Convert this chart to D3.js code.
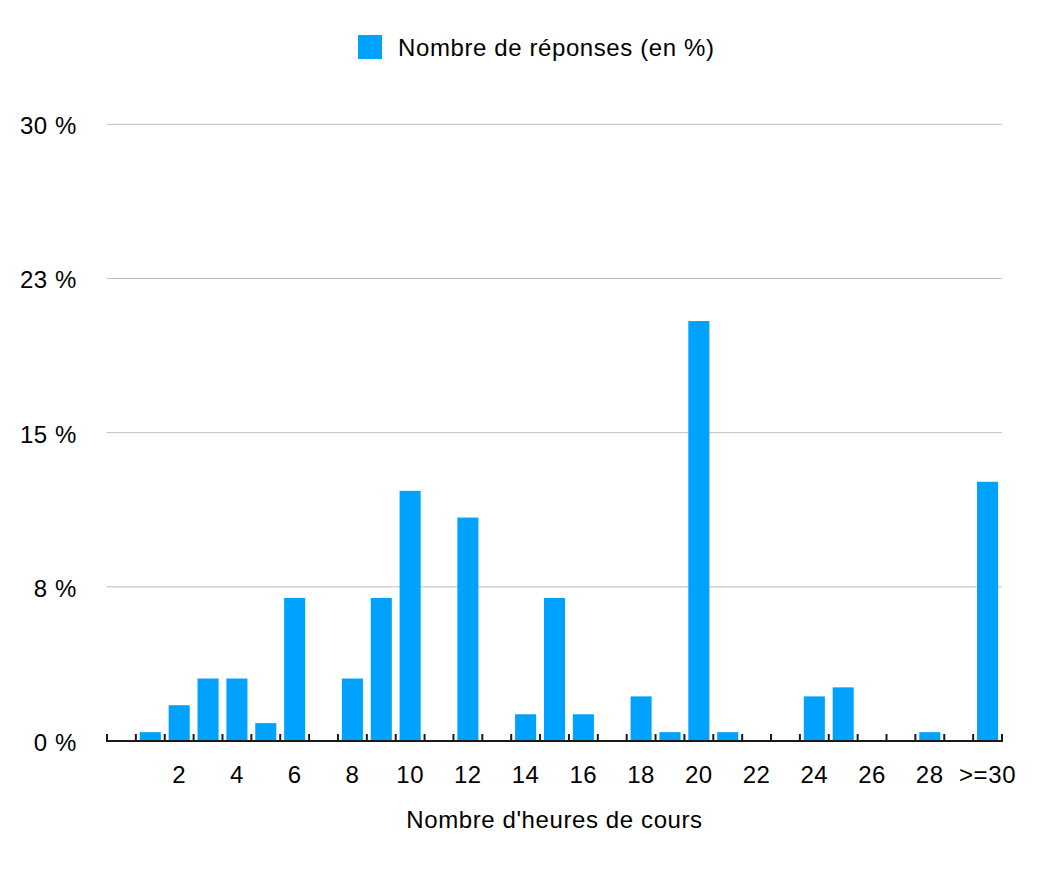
<!DOCTYPE html>
<html>
<head>
<meta charset="utf-8">
<script src="https://cdn.jsdelivr.net/npm/d3@7/dist/d3.min.js"></script>
<style>
  html, body { margin: 0; padding: 0; background: #fff; }
  text { font-family: "Liberation Sans", Arial, Helvetica, sans-serif; fill: #000; letter-spacing: 0.6px; }
</style>
</head>
<body>
<svg id="chart" width="1054" height="872"></svg>
<script>
// Categories: number of class hours (0 .. 29, then ">=30")
const categories = ["0","1","2","3","4","5","6","7","8","9","10","11","12","13","14","15",
  "16","17","18","19","20","21","22","23","24","25","26","27","28","29",">=30"];
// Share of responses (%)
const values = [0, 0.43, 1.74, 3.04, 3.04, 0.87, 6.96, 0, 3.04, 6.96, 12.17, 0, 10.87, 0,
  1.30, 6.96, 1.30, 0, 2.17, 0.43, 20.43, 0.43, 0, 0, 2.17, 2.61, 0, 0, 0.43, 0, 12.61];
const xTickLabels = ["2","4","6","8","10","12","14","16","18","20","22","24","26","28",">=30"];
const yTicks = [0, 7.5, 15, 22.5, 30];
const yTickLabels = ["0 %", "8 %", "15 %", "23 %", "30 %"];
const seriesName = "Nombre de réponses (en %)";
const xTitle = "Nombre d'heures de cours";

(function () {
const svg = d3.select("#chart");
const mLeft = 107, mRight = 1002, mTop = 124.3, mBottom = 741;
const color = "#00a2ff";
const fs = 24;

const x = d3.scaleBand().domain(categories).range([mLeft, mRight]).padding(0);
const y = d3.scaleLinear().domain([0, 30]).range([mBottom, mTop]);

// gridlines
svg.append("g").selectAll("line").data(yTicks.filter(d => d > 0)).join("line")
  .attr("x1", mLeft).attr("x2", mRight)
  .attr("y1", d => y(d)).attr("y2", d => y(d))
  .attr("stroke", "#bdbdbd").attr("stroke-width", 1);

// y labels
svg.append("g").selectAll("text").data(yTicks).join("text")
  .attr("x", 77).attr("y", d => y(d) + 10)
  .attr("text-anchor", "end").attr("font-size", fs)
  .text((d, i) => yTickLabels[i]);

// bars
const bw = x.bandwidth() * 0.73;
svg.append("g").selectAll("rect").data(categories).join("rect")
  .attr("x", d => x(d) + (x.bandwidth() - bw) / 2)
  .attr("width", bw)
  .attr("y", (d, i) => y(values[i]))
  .attr("height", (d, i) => y(0) - y(values[i]))
  .attr("fill", color);

// x axis line and ticks
const axis = svg.append("g");
axis.append("line").attr("x1", mLeft - 1).attr("x2", mRight + 1)
  .attr("y1", mBottom).attr("y2", mBottom)
  .attr("stroke", "#1a1a1a").attr("stroke-width", 2);
const boundaries = categories.map(c => x(c)).concat([x(categories[categories.length - 1]) + x.bandwidth()]);
axis.selectAll("line.tick").data(boundaries).join("line").attr("class", "tick")
  .attr("x1", d => d).attr("x2", d => d)
  .attr("y1", mBottom + 1).attr("y2", mBottom - 7)
  .attr("stroke", "#1a1a1a").attr("stroke-width", 2);

// x tick labels
svg.append("g").selectAll("text").data(xTickLabels).join("text")
  .attr("x", d => x(d) + x.bandwidth() / 2)
  .attr("y", 783)
  .attr("text-anchor", "middle").attr("font-size", fs)
  .text(d => d);

// x title
svg.append("text").attr("x", (406 + 703) / 2).attr("y", 828)
  .attr("text-anchor", "middle").attr("font-size", fs)
  .text(xTitle);

// legend
svg.append("rect").attr("x", 358).attr("y", 35).attr("width", 24).attr("height", 24).attr("fill", color);
svg.append("text").attr("x", 398).attr("y", 56).attr("font-size", fs).text(seriesName);
})();
</script>
</body>
</html>
